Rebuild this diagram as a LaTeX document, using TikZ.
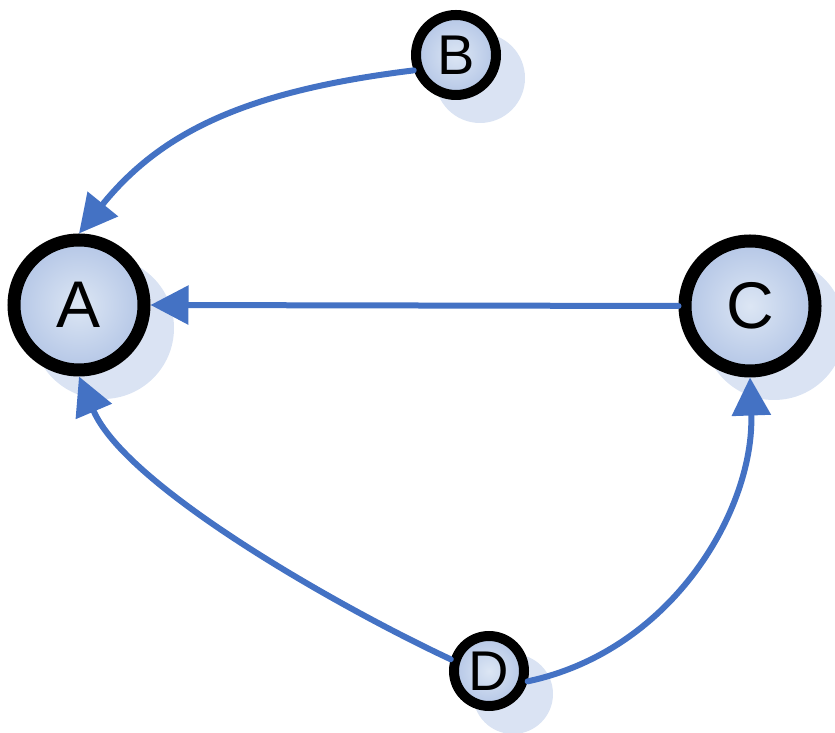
\documentclass[tikz,border=0pt]{standalone}
\usepackage{fontspec}
\setmainfont{Liberation Sans}
\usetikzlibrary{arrows.meta}
\definecolor{edgeblue}{HTML}{4472C4}
\definecolor{shadowc}{HTML}{DAE3F3}
\definecolor{fillin}{HTML}{DCE6F4}
\definecolor{fillout}{HTML}{B4C6E6}
\begin{document}
\begin{tikzpicture}[x=1pt,y=1pt,
  bignode/.style={circle, draw=black, line width=13pt, minimum size=130pt, inner sep=0pt,
    inner color=fillin, outer color=fillout, font=\fontsize{66}{66}\selectfont},
  smallnode/.style={circle, draw=black, line width=10pt, inner sep=0pt,
    inner color=fillin, outer color=fillout, font=\fontsize{56}{56}\selectfont},
  shadowdisc/.style={fill=shadowc},
  link/.style={draw=edgeblue, line width=6pt, line cap=round, -{Triangle[length=38pt,width=38pt]}}]
\useasboundingbox (0,0) rectangle (835,733);
% shadows
\fill[shadowdisc] (103,405) circle[radius=71];
\fill[shadowdisc] (774,404) circle[radius=71];
\fill[shadowdisc] (480,655) circle[radius=45];
\fill[shadowdisc] (513,39) circle[radius=40];
% nodes
\node[bignode] (A) at (79,428) {A};
\node[bignode] (C) at (750,427) {C};
\node[smallnode, minimum size=80pt] (B) at (456,678) {B};
\node[smallnode, minimum size=70pt] (D) at (489,62) {D};
% links
\draw[link] (B.200) .. controls +(187:170) and +(51:130) .. (A.north);
\draw[link] (C.west) -- (A.east);
\draw[link] (D.163) .. controls +(155:120) and +(293:120) .. (A.south);
\draw[link] (D.-15) .. controls +(12:150) and +(-88:130) .. (C.south);
\end{tikzpicture}
\end{document}
